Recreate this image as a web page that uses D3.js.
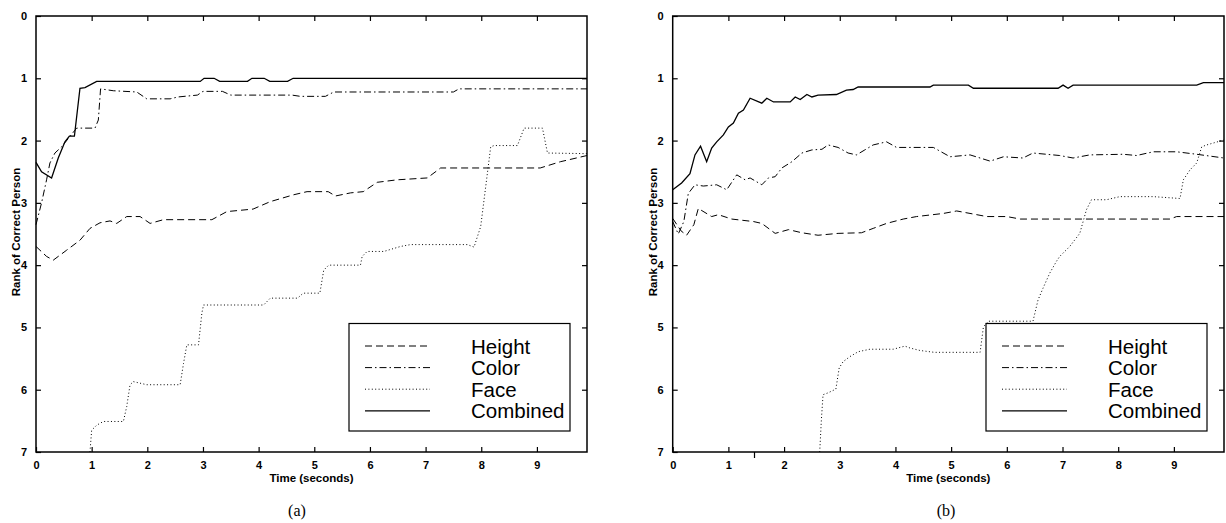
<!DOCTYPE html>
<style>
  body { margin: 0; background: white; }
  svg { display: block; }
  .tick text { font-family: "Liberation Sans", Arial, sans-serif; font-size: 11px; font-weight: bold; }
  .lab { font-family: "Liberation Sans", Arial, sans-serif; font-size: 11.5px; font-weight: bold; }
  .leg { font-family: "Liberation Sans", Arial, sans-serif; font-size: 20.5px; }
  .cap { font-family: "Liberation Serif", "Times New Roman", serif; font-size: 16px; }
</style>
<body>
</body>
<script src="https://cdn.jsdelivr.net/npm/d3@7"></script>
<script>
  // values: [time (s), rank]
  const names = ['Height', 'Color', 'Face', 'Combined'];
  const xTicks = [0, 1, 2, 3, 4, 5, 6, 7, 8, 9];
  const yTicks = [0, 1, 2, 3, 4, 5, 6, 7];
  const bStrayTicks = [1.46]; // the odd little tick under panel (b)

  const aHeight = [[0,3.7],[0.19,3.86],[0.31,3.92],[0.55,3.76],[0.79,3.6],[0.97,3.41],[1.15,3.32],[1.33,3.29],[1.45,3.33],[1.63,3.22],[1.87,3.22],[2.05,3.33],[2.29,3.27],[3.16,3.27],[3.43,3.14],[3.9,3.1],[4.21,2.98],[4.63,2.87],[4.87,2.82],[5.25,2.82],[5.38,2.89],[5.65,2.84],[5.88,2.82],[6.13,2.67],[6.49,2.63],[7.03,2.6],[7.27,2.44],[9.06,2.44],[9.42,2.34],[9.9,2.24]];
  const aColor = [[0,3.35],[0.1,3.0],[0.19,2.63],[0.25,2.36],[0.34,2.2],[0.46,2.1],[0.64,1.9],[0.73,1.8],[1.06,1.8],[1.12,1.67],[1.16,1.17],[1.39,1.2],[1.81,1.22],[1.99,1.33],[2.41,1.33],[2.55,1.3],[2.9,1.27],[3.0,1.21],[3.35,1.21],[3.5,1.27],[4.6,1.27],[4.75,1.29],[5.2,1.29],[5.35,1.22],[7.5,1.22],[7.6,1.17],[9.9,1.17]];
  const aFace = [[0.97,7.0],[1.0,6.65],[1.09,6.57],[1.21,6.51],[1.57,6.51],[1.63,6.27],[1.69,5.92],[1.75,5.87],[1.99,5.92],[2.59,5.92],[2.65,5.58],[2.71,5.28],[2.92,5.28],[2.98,4.77],[3.01,4.64],[4.09,4.64],[4.21,4.53],[4.7,4.53],[4.8,4.45],[5.1,4.45],[5.17,4.08],[5.26,4.0],[5.83,4.0],[5.86,3.86],[5.95,3.78],[6.25,3.78],[6.55,3.7],[6.73,3.67],[7.75,3.67],[7.87,3.71],[7.99,3.38],[8.08,2.74],[8.17,2.1],[8.23,2.08],[8.65,2.08],[8.77,1.8],[9.1,1.8],[9.19,2.2],[9.9,2.21]];
  const aCombined = [[0,2.35],[0.1,2.5],[0.28,2.6],[0.4,2.28],[0.52,2.02],[0.6,1.93],[0.69,1.93],[0.79,1.16],[0.88,1.15],[1.09,1.05],[2.95,1.05],[3.02,1.0],[3.2,1.0],[3.3,1.05],[3.8,1.05],[3.88,1.0],[4.1,1.0],[4.2,1.05],[4.52,1.05],[4.62,1.0],[9.9,1.0]];

  const bHeight = [[0,3.25],[0.15,3.45],[0.25,3.52],[0.38,3.35],[0.46,3.09],[0.7,3.22],[0.82,3.19],[1.06,3.26],[1.45,3.3],[1.6,3.33],[1.84,3.49],[2.08,3.43],[2.32,3.48],[2.61,3.52],[2.97,3.49],[3.39,3.48],[3.6,3.41],[3.84,3.33],[4.14,3.26],[4.38,3.22],[4.86,3.17],[5.1,3.13],[5.4,3.18],[5.64,3.22],[6.0,3.22],[6.24,3.26],[8.93,3.26],[9.05,3.22],[9.9,3.22]];
  const bColor = [[0,3.3],[0.1,3.5],[0.2,3.3],[0.28,2.85],[0.4,2.71],[0.55,2.73],[0.79,2.71],[0.97,2.79],[1.15,2.55],[1.3,2.63],[1.39,2.6],[1.6,2.71],[1.72,2.6],[1.84,2.58],[1.96,2.44],[2.14,2.34],[2.32,2.2],[2.5,2.15],[2.68,2.14],[2.79,2.07],[2.97,2.11],[3.15,2.2],[3.3,2.23],[3.45,2.15],[3.6,2.07],[3.84,2.02],[4.02,2.11],[4.68,2.11],[4.98,2.26],[5.34,2.23],[5.7,2.33],[5.94,2.26],[6.29,2.28],[6.47,2.2],[6.95,2.24],[7.19,2.28],[7.49,2.23],[8.09,2.22],[8.33,2.24],[8.63,2.18],[9.05,2.18],[9.41,2.22],[9.9,2.28]];
  const bFace = [[2.64,7.0],[2.67,6.48],[2.7,6.08],[2.79,6.05],[2.93,5.99],[2.99,5.65],[3.06,5.55],[3.18,5.47],[3.33,5.39],[3.54,5.35],[3.96,5.35],[4.17,5.3],[4.26,5.33],[4.44,5.37],[4.7,5.4],[5.52,5.4],[5.58,4.99],[5.67,4.9],[6.47,4.9],[6.56,4.56],[6.65,4.37],[6.77,4.13],[6.89,3.94],[6.95,3.86],[7.13,3.7],[7.31,3.49],[7.43,3.11],[7.52,2.95],[7.79,2.95],[8.03,2.9],[8.63,2.9],[9.11,2.93],[9.17,2.63],[9.29,2.47],[9.41,2.36],[9.5,2.1],[9.59,2.07],[9.9,1.99]];
  const bCombined = [[0,2.79],[0.16,2.68],[0.31,2.53],[0.4,2.23],[0.5,2.09],[0.61,2.34],[0.7,2.12],[0.79,2.02],[0.91,1.91],[1.0,1.78],[1.09,1.72],[1.18,1.56],[1.27,1.51],[1.39,1.32],[1.6,1.4],[1.69,1.32],[1.81,1.38],[2.11,1.38],[2.2,1.3],[2.29,1.34],[2.41,1.26],[2.5,1.3],[2.61,1.27],[2.94,1.26],[3.12,1.19],[3.24,1.18],[3.33,1.14],[4.62,1.14],[4.68,1.11],[5.31,1.11],[5.4,1.16],[6.92,1.16],[7.01,1.11],[7.1,1.16],[7.19,1.11],[9.41,1.11],[9.53,1.07],[9.9,1.07]];

  const dashes = ['7,4', '7,3,1.5,3', '1,2.4', null];
  const widths = [1, 1, 1, 1.3];

  const W = 1226, H = 523;
  const pTop = 16, pBottom = 452;

  const svg = d3.select('body').append('svg')
    .attr('width', W)
    .attr('height', H);

  function panel(left, right, series, caption, capX, stray) {
    const x = d3.scaleLinear().domain([0, 9.9]).range([left, right]);
    const y = d3.scaleLinear().domain([0, 7]).range([pTop, pBottom]);
    const g = svg.append('g');

    const line = d3.line().x(d => x(d[0])).y(d => y(d[1]));
    series.forEach((s, i) => {
      g.append('path')
        .attr('d', line(s))
        .attr('fill', 'none')
        .attr('stroke', 'black')
        .attr('stroke-width', widths[i])
        .attr('stroke-dasharray', dashes[i]);
    });

    // axes: labels outside, ticks inward on all four sides
    const tk = 5;
    g.append('g')
      .attr('transform', `translate(0, ${pBottom})`)
      .call(d3.axisBottom(x).tickValues(xTicks).tickFormat(d3.format('d')).tickSizeInner(-tk).tickSizeOuter(0).tickPadding(9))
      .call(a => a.select('.domain').remove());
    g.append('g')
      .attr('transform', `translate(0, ${pTop})`)
      .call(d3.axisTop(x).tickValues(xTicks.slice(1)).tickFormat('').tickSizeInner(-tk).tickSizeOuter(0))
      .call(a => a.select('.domain').remove());
    g.append('g')
      .attr('transform', `translate(${left}, 0)`)
      .call(d3.axisLeft(y).tickValues(yTicks).tickFormat(d3.format('d')).tickSizeInner(-tk).tickSizeOuter(0).tickPadding(9))
      .call(a => a.select('.domain').remove());
    g.append('g')
      .attr('transform', `translate(${right}, 0)`)
      .call(d3.axisRight(y).tickValues(yTicks.slice(1, -1)).tickFormat('').tickSizeInner(-tk).tickSizeOuter(0))
      .call(a => a.select('.domain').remove());
    if (stray) {
      g.append('g')
        .attr('transform', `translate(0, ${pBottom})`)
        .call(d3.axisBottom(x).tickValues(stray).tickFormat('').tickSizeInner(6).tickSizeOuter(0))
        .call(a => a.select('.domain').remove());
    }
    g.selectAll('.tick line').attr('stroke-width', 1.2);
    g.selectAll('.tick text').attr('fill', 'black');

    g.append('rect')
      .attr('x', left).attr('y', pTop)
      .attr('width', right - left).attr('height', pBottom - pTop)
      .attr('fill', 'none').attr('stroke', 'black').attr('stroke-width', 1.5);

    g.append('text').attr('class', 'lab')
      .attr('x', (left + right) / 2).attr('y', 482)
      .attr('text-anchor', 'middle')
      .text('Time (seconds)');
    g.append('text').attr('class', 'lab')
      .attr('transform', `translate(${left - 16}, ${(pTop + pBottom) / 2 - 2}) rotate(-90)`)
      .attr('text-anchor', 'middle')
      .text('Rank of Correct Person');

    // legend
    const lx = right - 238, ly = 323.5;
    const leg = g.append('g').attr('transform', `translate(${lx}, ${ly})`);
    leg.append('rect')
      .attr('width', 221).attr('height', 107.5)
      .attr('fill', 'white').attr('stroke', 'black').attr('stroke-width', 1.2);
    names.forEach((n, i) => {
      const yy = 22.5 + i * 21.6;
      leg.append('line')
        .attr('x1', 16).attr('x2', 81).attr('y1', yy).attr('y2', yy)
        .attr('stroke', 'black').attr('stroke-width', widths[i])
        .attr('stroke-dasharray', dashes[i]);
      leg.append('text').attr('class', 'leg')
        .attr('x', 122).attr('y', yy + 7.5)
        .text(n);
    });

    svg.append('text').attr('class', 'cap')
      .attr('x', capX).attr('y', 516)
      .attr('text-anchor', 'middle')
      .text(caption);
  }

  panel(36, 587, [aHeight, aColor, aFace, aCombined], '(a)', 297);
  panel(672.7, 1224, [bHeight, bColor, bFace, bCombined], '(b)', 946, bStrayTicks);
</script>
